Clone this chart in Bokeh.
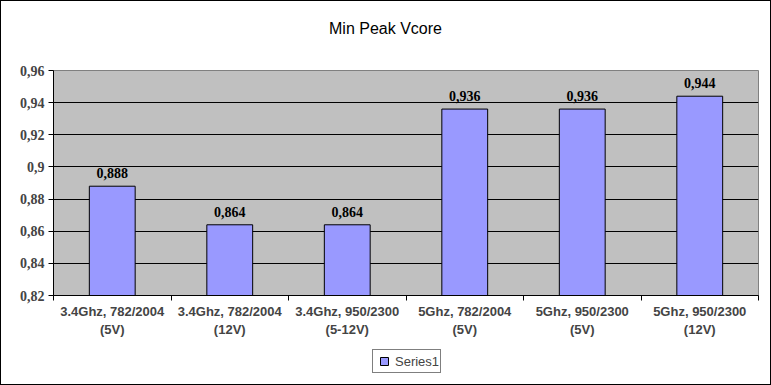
from bokeh.plotting import figure
from bokeh.layouts import column
from bokeh.models import (FixedTicker, CustomJSTickFormatter, Range1d, Legend, LegendItem,
                          ColumnDataSource, Label)
from bokeh.core.properties import value
from bokeh.embed import file_html
from bokeh.resources import INLINE

title_text = "Min Peak Vcore"
series_name = "Series1"
categories = ["3.4Ghz, 782/2004\n(5V)", "3.4Ghz, 782/2004\n(12V)", "3.4Ghz, 950/2300\n(5-12V)",
              "5Ghz, 782/2004\n(5V)", "5Ghz, 950/2300\n(5V)", "5Ghz, 950/2300\n(12V)"]
series1 = [0.888, 0.864, 0.864, 0.936, 0.936, 0.944]
y_ticks = [0.82, 0.84, 0.86, 0.88, 0.90, 0.92, 0.94, 0.96]

BAR_FILL = "#9999FF"
W = 771
FRAME_L, FRAME_R = 52, 757   # column aligns all frames to the main chart's frame

xs = [i + 0.5 for i in range(len(categories))]
labels = [f"{v:.3f}".replace(".", ",") for v in series1]
src = ColumnDataSource(dict(x=xs, top=series1, lab=labels))


def blank(h, border):
    f = figure(width=W, height=h, output_backend="svg", toolbar_location=None,
               x_range=Range1d(FRAME_L, FRAME_R), y_range=Range1d(0, h),
               x_axis_location=None, y_axis_location=None,
               min_border=0, min_border_left=0, min_border_right=0,
               min_border_top=0, min_border_bottom=0)
    f.grid.visible = False
    f.outline_line_color = None
    f.background_fill_color = "white"
    f.border_fill_color = "white"
    f.styles = border
    return f


# title strip
top = blank(45, {"border-top": "1px solid black", "border-left": "1px solid black",
                 "border-right": "1px solid black", "box-sizing": "border-box"})
top.add_layout(Label(x=384, y=18, text=title_text, text_align="center", text_baseline="middle",
                     text_font="Liberation Sans", text_font_size="16px", text_color="black"))

# main chart
p = figure(width=W, height=295, output_backend="svg", toolbar_location=None,
           x_range=Range1d(0, len(categories)), y_range=Range1d(y_ticks[0], y_ticks[-1]),
           min_border_left=FRAME_L, min_border_right=W - FRAME_R, min_border_top=25,
           min_border_bottom=45)
p.styles = {"border-left": "1px solid black", "border-right": "1px solid black",
            "box-sizing": "border-box"}
p.background_fill_color = "#C0C0C0"
p.border_fill_color = "white"
p.outline_line_color = "#808080"

bars = p.vbar(x="x", top="top", bottom=y_ticks[0], width=0.39, source=src,
              fill_color=BAR_FILL, line_color="black", line_width=1)
p.text(x="x", y="top", text="lab", source=src, text_align="center", text_baseline="bottom",
       y_offset=-8, text_font=value("Liberation Serif"), text_font_style="bold",
       text_font_size="14px", text_color="black")

p.yaxis.ticker = FixedTicker(ticks=y_ticks)
p.yaxis.formatter = CustomJSTickFormatter(code="return tick.toFixed(2).replace('.', ',').replace(/0$/, '');")
p.yaxis.major_label_text_font = "Liberation Serif"
p.yaxis.major_label_text_font_style = "bold"
p.yaxis.major_label_text_font_size = "14px"
p.yaxis.major_tick_out = 5
p.yaxis.major_tick_in = 0
p.yaxis.minor_tick_line_color = None
p.yaxis.axis_line_color = "black"
p.yaxis.major_label_standoff = 4

p.xaxis.ticker = FixedTicker(ticks=xs, minor_ticks=list(range(len(categories) + 1)))
p.xaxis.major_label_overrides = {x: c for x, c in zip(xs, categories)}
p.xaxis.major_label_text_font = "Liberation Sans"
p.xaxis.major_label_text_font_style = "bold"
p.xaxis.major_label_text_font_size = "13px"
p.xaxis.major_tick_line_color = None
p.xaxis.minor_tick_out = 5
p.xaxis.minor_tick_in = 0
p.xaxis.minor_tick_line_color = "black"
p.xaxis.axis_line_color = "black"
p.xaxis.major_label_standoff = 2

p.xgrid.grid_line_color = None
p.ygrid.ticker = FixedTicker(ticks=y_ticks[1:-1])
p.ygrid.grid_line_color = "black"
p.ygrid.grid_line_alpha = 1

# legend strip: zero-size markers carry the series so the legend swatch is drawn
bot = blank(45, {"border-bottom": "1px solid black", "border-left": "1px solid black",
                 "border-right": "1px solid black", "box-sizing": "border-box"})
swatch = bot.scatter(x=xs, y=series1, marker="square", size=0,
                     fill_color=BAR_FILL, line_color="black", line_width=1)
legend = Legend(items=[LegendItem(label=series_name, renderers=[swatch])], location=(319, 12),
                orientation="horizontal", border_line_color="black", border_line_width=1,
                background_fill_color="white", background_fill_alpha=1,
                label_text_font="Liberation Sans", label_text_font_size="13px",
                glyph_width=20, glyph_height=20, label_standoff=1, padding=1, margin=0,
                label_height=13, spacing=0)
bot.add_layout(legend, "center")

layout = column(top, p, bot, spacing=0)
open("out.html", "w").write(file_html(layout, INLINE))
